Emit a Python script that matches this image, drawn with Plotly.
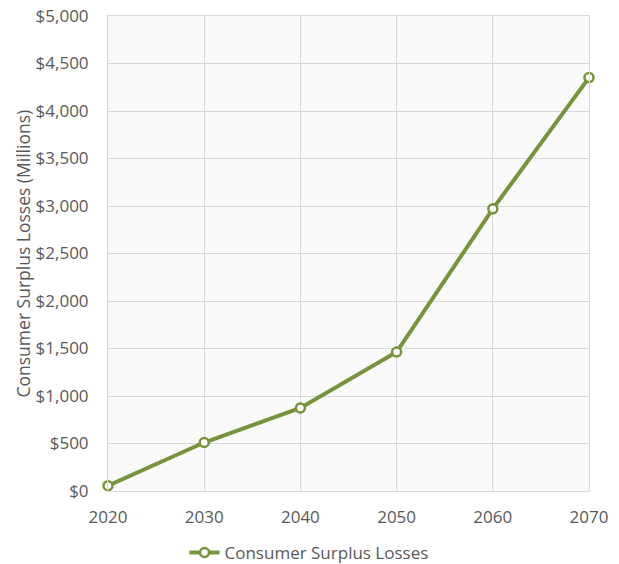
import plotly.graph_objects as go

years = [2020, 2030, 2040, 2050, 2060, 2070]
losses = [56, 510, 874, 1463, 2970, 4352]
series_name = "Consumer Surplus Losses"
y_title = "Consumer Surplus Losses (Millions)"
y_ticks = [0, 500, 1000, 1500, 2000, 2500, 3000, 3500, 4000, 4500, 5000]

green = "#77933C"
font_family = "Open Sans, Segoe UI, sans-serif"
W, H = 619, 564
L, R, T, B = 108, 30, 16, 73
pw = W - L - R
ph = H - T - B

fig = go.Figure()
fig.add_trace(go.Scatter(
    x=years, y=losses, name=series_name, mode="lines+markers",
    line=dict(color=green, width=4),
    marker=dict(symbol="circle", size=9, color="white", line=dict(color=green, width=2.5)),
    cliponaxis=False,
))

fig.update_layout(
    width=W, height=H,
    margin=dict(l=L, r=R, t=T, b=B, autoexpand=False),
    paper_bgcolor="white",
    plot_bgcolor="#FAFAFA",
    font=dict(family=font_family, size=17, color="#595959"),
    showlegend=True,
    legend=dict(orientation="h", x=(309 - L) / pw, xanchor="center", y=-62 / ph,
                yanchor="middle", font=dict(size=17, color="#595959"), itemwidth=30),
    xaxis=dict(range=[2020, 2070], tickvals=years, showgrid=True, gridcolor="#D9D9D9",
               gridwidth=1, showline=True, linecolor="#D9D9D9", mirror=True,
               zeroline=False, ticks="", automargin=False, ticklabelstandoff=11,
               ticklabeloverflow="allow", tickfont=dict(size=17)),
    yaxis=dict(range=[0, 5000], tickvals=y_ticks, tickformat="$,.0f",
               showgrid=True, gridcolor="#D9D9D9", gridwidth=1, showline=True,
               linecolor="#D9D9D9", mirror=True, zeroline=False, automargin=False,
               ticklabelstandoff=15, ticklabeloverflow="allow", tickfont=dict(size=17)),
    annotations=[dict(text=y_title, textangle=-90, xref="paper", yref="paper",
                      x=(22 - L) / pw, y=0.5, xanchor="center", yanchor="middle",
                      showarrow=False, font=dict(size=17.5, color="#595959"))],
)

fig.write_html("out.html", config={"displayModeBar": False},
               post_script="document.body.style.margin='0';")
